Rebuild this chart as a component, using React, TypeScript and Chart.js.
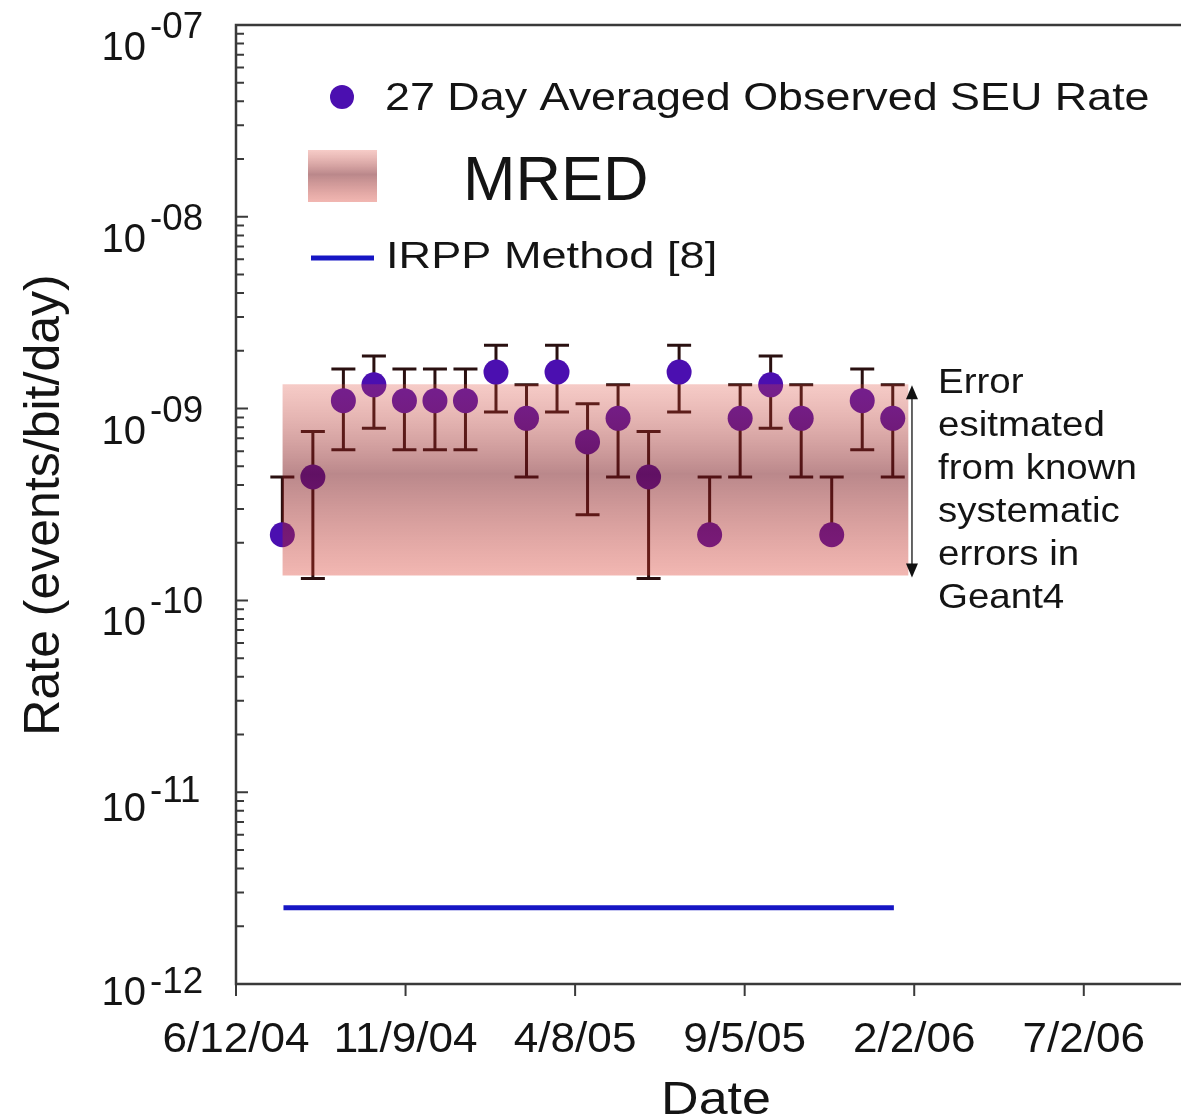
import React, { useEffect, useRef } from 'react';
import { Chart, registerables } from 'chart.js';

Chart.register(...registerables);

// ---------- data ----------
// x values are days since 6/12/04
const xTickDays = [0, 150, 300, 450, 600, 750];
const xTickLabels = ['6/12/04', '11/9/04', '4/8/05', '9/5/05', '2/2/06', '7/2/06'];
const yDecadeExps = [-7, -8, -9, -10, -11, -12];
const yDecadeLabels = ['-07', '-08', '-09', '-10', '-11', '-12'];

const seuDays = [41, 68, 95, 122, 149, 176, 203, 230, 257, 284, 311, 338, 365, 392, 419, 446, 473, 500, 527, 554, 581];
const seuRate = [2.2e-10, 4.4e-10, 1.1e-9, 1.33e-9, 1.1e-9, 1.1e-9, 1.1e-9, 1.55e-9, 8.9e-10, 1.55e-9, 6.7e-10, 8.9e-10, 4.4e-10, 1.55e-9, 2.2e-10, 8.9e-10, 1.33e-9, 8.9e-10, 2.2e-10, 1.1e-9, 8.9e-10];
const seuUpper = [4.4e-10, 7.6e-10, 1.61e-9, 1.88e-9, 1.61e-9, 1.61e-9, 1.61e-9, 2.14e-9, 1.33e-9, 2.14e-9, 1.06e-9, 1.33e-9, 7.6e-10, 2.14e-9, 4.4e-10, 1.33e-9, 1.88e-9, 1.33e-9, 4.4e-10, 1.61e-9, 1.33e-9];
const seuLower: (number | null)[] = [null, 1.3e-10, 6.1e-10, 7.9e-10, 6.1e-10, 6.1e-10, 6.1e-10, 9.6e-10, 4.4e-10, 9.6e-10, 2.8e-10, 4.4e-10, 1.3e-10, 9.6e-10, null, 4.4e-10, 7.9e-10, 4.4e-10, null, 6.1e-10, 4.4e-10];

const bandDays = [41, 595];
const bandHigh = 1.34e-9;
const bandLow = 1.35e-10;
const arrowDay = 598;

const irppDays = [42, 582];
const irppRate = 2.5e-12;

const xMin = 0;
const xMax = 836;
const yMin = 1e-12;
const yMax = 1e-7;

const annotationLines = ['Error', 'esitmated', 'from known', 'systematic', 'errors in', 'Geant4'];

// ---------- styles ----------
const FONT = "'Liberation Sans', Arial, Helvetica, sans-serif";
const TEXT = '#141414';
const AXIS = '#3a3a3a';
const DOT = '#4b0fb0';
const BAR = '#2a1010';
const BLUE = '#1616c4';

function addBandStops(g: CanvasGradient) {
  g.addColorStop(0, 'rgba(222,70,55,0.28)');
  g.addColorStop(0.47, 'rgba(118,18,24,0.50)');
  g.addColorStop(1, 'rgba(218,55,41,0.36)');
}

function bandGradient(chart: any) {
  const { ctx, chartArea, scales } = chart;
  if (!chartArea || !scales || !scales.y) return 'rgba(200,110,110,0.4)';
  const y0 = scales.y.getPixelForValue(bandHigh);
  const y1 = scales.y.getPixelForValue(bandLow);
  const g = ctx.createLinearGradient(0, y0, 0, y1);
  addBandStops(g);
  return g;
}

function drawText(ctx: CanvasRenderingContext2D, text: string, x: number, y: number, size: number, sx: number, align: CanvasTextAlign) {
  ctx.save();
  ctx.font = `${size}px ${FONT}`;
  ctx.fillStyle = TEXT;
  ctx.textBaseline = 'alphabetic';
  ctx.textAlign = align;
  ctx.translate(x, y);
  ctx.scale(sx, 1);
  ctx.fillText(text, 0, 0);
  ctx.restore();
}

const customDraw = {
  id: 'customDraw',
  beforeDatasetsDraw(chart: any) {
    const ctx: CanvasRenderingContext2D = chart.ctx;
    const xs = chart.scales.x;
    const ys = chart.scales.y;
    ctx.save();
    ctx.strokeStyle = BAR;
    ctx.lineWidth = 3;
    const capHalf = 12;
    for (let i = 0; i < seuDays.length; i++) {
      const x = xs.getPixelForValue(seuDays[i]);
      const yTop = ys.getPixelForValue(seuUpper[i]);
      const yc = ys.getPixelForValue(seuRate[i]);
      const lo = seuLower[i];
      const yBot = lo != null ? ys.getPixelForValue(lo) : yc;
      ctx.beginPath();
      ctx.moveTo(x, yTop);
      ctx.lineTo(x, yBot);
      ctx.moveTo(x - capHalf, yTop);
      ctx.lineTo(x + capHalf, yTop);
      if (lo != null) {
        ctx.moveTo(x - capHalf, yBot);
        ctx.lineTo(x + capHalf, yBot);
      }
      ctx.stroke();
    }
    ctx.restore();
  },
  afterDraw(chart: any) {
    const ctx: CanvasRenderingContext2D = chart.ctx;
    const xs = chart.scales.x;
    const ys = chart.scales.y;
    const area = chart.chartArea;

    // axes frame
    ctx.save();
    ctx.strokeStyle = AXIS;
    ctx.lineWidth = 2.5;
    ctx.beginPath();
    ctx.moveTo(area.right + 2, area.top);
    ctx.lineTo(area.left, area.top);
    ctx.lineTo(area.left, area.bottom);
    ctx.lineTo(area.right + 2, area.bottom);
    ctx.stroke();

    // y ticks (inward)
    ctx.lineWidth = 2;
    ctx.beginPath();
    for (let e = -12; e <= -7; e++) {
      const py = ys.getPixelForValue(Math.pow(10, e));
      ctx.moveTo(area.left, py);
      ctx.lineTo(area.left + 12, py);
      if (e < -7) {
        for (let m = 2; m <= 9; m++) {
          const pm = ys.getPixelForValue(m * Math.pow(10, e));
          ctx.moveTo(area.left, pm);
          ctx.lineTo(area.left + 8, pm);
        }
      }
    }
    // x ticks (outward)
    for (const d of xTickDays) {
      const px = xs.getPixelForValue(d);
      ctx.moveTo(px, area.bottom);
      ctx.lineTo(px, area.bottom + 12);
    }
    ctx.stroke();
    ctx.restore();

    // y tick labels 10^-n
    yDecadeExps.forEach((e, i) => {
      const py = ys.getPixelForValue(Math.pow(10, e));
      let o1 = 35;
      let o2 = 13;
      if (e === -11) { o1 = 29; o2 = 10; }
      if (e === -12) { o1 = 21; o2 = 9; }
      drawText(ctx, '10', 146, py + o1, 40, 1, 'right');
      drawText(ctx, yDecadeLabels[i], 150, py + o2, 36, 1.02, 'left');
    });

    // x tick labels
    xTickDays.forEach((d, i) => {
      const px = xs.getPixelForValue(d);
      drawText(ctx, xTickLabels[i], px, 1052, 42, 1.05, 'center');
    });

    // axis titles
    drawText(ctx, 'Date', 716, 1114, 46, 1.13, 'center');
    ctx.save();
    ctx.translate(59, 505);
    ctx.rotate(-Math.PI / 2);
    ctx.font = `50px ${FONT}`;
    ctx.fillStyle = TEXT;
    ctx.textAlign = 'center';
    ctx.textBaseline = 'alphabetic';
    ctx.fillText('Rate (events/bit/day)', 0, 0);
    ctx.restore();

    // legend
    ctx.save();
    ctx.fillStyle = DOT;
    ctx.beginPath();
    ctx.arc(342, 97, 12, 0, Math.PI * 2);
    ctx.fill();
    const g = ctx.createLinearGradient(0, 150, 0, 202);
    addBandStops(g);
    ctx.fillStyle = g;
    ctx.fillRect(308, 150, 69, 52);
    ctx.strokeStyle = BLUE;
    ctx.lineWidth = 5;
    ctx.beginPath();
    ctx.moveTo(311, 258);
    ctx.lineTo(374, 258);
    ctx.stroke();
    ctx.restore();
    drawText(ctx, '27 Day Averaged Observed SEU Rate', 385, 110, 39, 1.15, 'left');
    drawText(ctx, 'MRED', 463, 200, 63, 1, 'left');
    drawText(ctx, 'IRPP Method [8]', 386, 268, 37, 1.22, 'left');

    // error-range arrow + annotation
    const ax = xs.getPixelForValue(arrowDay);
    const aTop = ys.getPixelForValue(bandHigh);
    const aBot = ys.getPixelForValue(bandLow);
    ctx.save();
    ctx.strokeStyle = '#333';
    ctx.fillStyle = '#111';
    ctx.lineWidth = 1.5;
    ctx.beginPath();
    ctx.moveTo(ax, aTop + 10);
    ctx.lineTo(ax, aBot - 10);
    ctx.stroke();
    ctx.beginPath();
    ctx.moveTo(ax, aTop + 1);
    ctx.lineTo(ax - 6, aTop + 15);
    ctx.lineTo(ax + 6, aTop + 15);
    ctx.closePath();
    ctx.fill();
    ctx.beginPath();
    ctx.moveTo(ax, aBot + 2);
    ctx.lineTo(ax - 6, aBot - 12);
    ctx.lineTo(ax + 6, aBot - 12);
    ctx.closePath();
    ctx.fill();
    ctx.restore();
    annotationLines.forEach((t, i) => {
      drawText(ctx, t, ax + 26, 393 + i * 43, 35, 1.1, 'left');
    });
  },
};

export default function App() {
  const ref = useRef<HTMLCanvasElement>(null);
  useEffect(() => {
    if (!ref.current) return;
    const chart = new Chart(ref.current, {
      type: 'line',
      data: {
        datasets: [
          {
            label: 'MRED high',
            data: bandDays.map((d) => ({ x: d, y: bandHigh })),
            borderWidth: 0,
            borderColor: 'rgba(0,0,0,0)',
            pointRadius: 0,
            fill: false,
            order: 0,
          },
          {
            label: 'MRED',
            data: bandDays.map((d) => ({ x: d, y: bandLow })),
            borderWidth: 0,
            borderColor: 'rgba(0,0,0,0)',
            pointRadius: 0,
            fill: '-1',
            backgroundColor: (c: any) => bandGradient(c.chart),
            order: 0,
          },
          {
            label: '27 Day Averaged Observed SEU Rate',
            data: seuDays.map((d, i) => ({ x: d, y: seuRate[i] })),
            showLine: false,
            pointRadius: 12.5,
            pointHoverRadius: 12.5,
            pointBackgroundColor: DOT,
            pointBorderWidth: 0,
            pointBorderColor: DOT,
            order: 1,
          },
          {
            label: 'IRPP Method [8]',
            data: irppDays.map((d) => ({ x: d, y: irppRate })),
            borderColor: BLUE,
            borderWidth: 5,
            pointRadius: 0,
            fill: false,
            order: 2,
          },
        ],
      },
      options: {
        animation: false,
        responsive: false,
        devicePixelRatio: 1,
        layout: { autoPadding: false, padding: { top: 25, right: 0, bottom: 0, left: 0 } },
        plugins: {
          legend: { display: false },
          tooltip: { enabled: false },
          title: { display: false },
        },
        events: [],
        scales: {
          x: {
            type: 'linear',
            min: xMin,
            max: xMax,
            ticks: { display: false },
            grid: { display: false },
            border: { display: false },
            afterFit: (s: any) => { s.height = 135; },
          },
          y: {
            type: 'logarithmic',
            min: yMin,
            max: yMax,
            ticks: { display: false },
            grid: { display: false },
            border: { display: false },
            afterFit: (s: any) => { s.width = 236; },
          },
        },
      } as any,
      plugins: [customDraw],
    });
    return () => chart.destroy();
  }, []);
  return (
    <div style={{ position: 'absolute', left: 0, top: 0, width: 1181, height: 1119, background: '#fff' }}>
      <canvas ref={ref} width={1181} height={1119} style={{ display: 'block' }} />
    </div>
  );
}
